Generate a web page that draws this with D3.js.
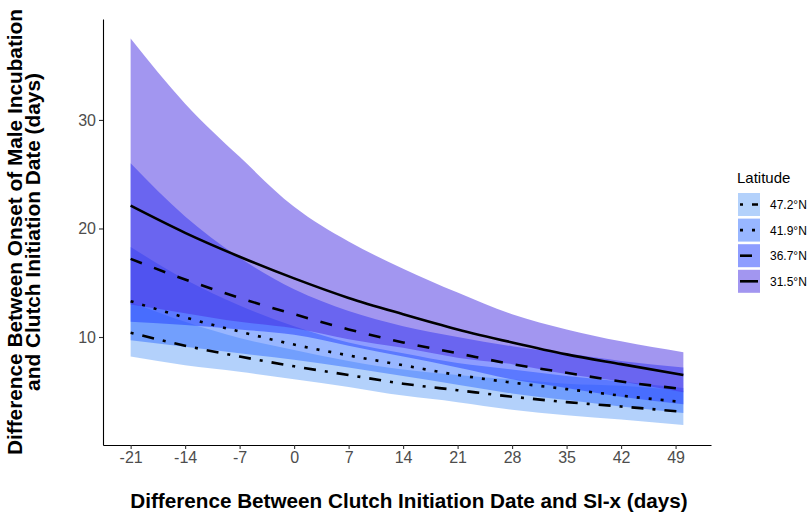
<!DOCTYPE html>
<html>
<head>
<meta charset="utf-8">
<script src="https://cdn.jsdelivr.net/npm/d3@7"></script>
<style>
    body { margin: 0; background: #fff; }
    text { font-family: "Liberation Sans", Arial, sans-serif; }
</style>
</head>
<body>
<svg id="chart" width="807" height="514"></svg>
<script>
/*global d3*/

// days relative to SI-x, one predicted value per tick
var days = [-21, -14, -7, 0, 7, 14, 21, 28, 35, 42, 50],
    xTicks = [-21, -14, -7, 0, 7, 14, 21, 28, 35, 42, 49],
    yTicks = [10, 20, 30],
    latitudes = ['47.2°N', '41.9°N', '36.7°N', '31.5°N'],

    fit472 = [10.4, 9.2, 8.2, 7.3, 6.5, 5.7, 5.1, 4.5, 4.0, 3.6, 3.1],
    low472 = [8.2, 7.4, 6.8, 6.1, 5.4, 4.6, 4.0, 3.3, 2.8, 2.4, 1.9],
    high472 = [13.2, 11.4, 9.9, 8.8, 7.8, 7.0, 6.5, 6.1, 5.7, 5.5, 5.05],

    fit419 = [13.3, 11.8, 10.5, 9.3, 8.3, 7.4, 6.5, 5.8, 5.2, 4.6, 4.0],
    low419 = [9.7, 9.1, 8.5, 7.9, 7.2, 6.4, 5.6, 4.8, 4.2, 3.6, 3.0],
    high419 = [18.3, 15.3, 12.9, 11.0, 9.5, 8.5, 7.6, 7.0, 6.4, 5.9, 5.3],

    fit367 = [17.2, 15.3, 13.6, 12.1, 10.7, 9.5, 8.5, 7.5, 6.7, 5.9, 5.2],
    low367 = [11.4, 11.1, 10.7, 10.2, 9.2, 8.2, 7.2, 6.1, 5.3, 4.5, 3.8],
    high367 = [26.0, 21.1, 17.3, 14.4, 12.4, 11.0, 10.0, 9.15, 8.5, 7.8, 7.2],

    fit315 = [22.1, 19.6, 17.4, 15.4, 13.6, 12.1, 10.7, 9.5, 8.4, 7.5, 6.5],
    low315 = [13.0, 12.2, 11.4, 10.8, 9.8, 9.0, 8.1, 7.5, 6.6, 5.9, 4.9],
    high315 = [37.5, 31.5, 26.6, 22.0, 18.8, 16.3, 14.1, 12.1, 10.7, 9.6, 8.6];

(function () {
    "use strict";

    var fills = ['#67a3f7', '#326eff', '#1e3cff', '#462de1'],
        dashes = ['3,9,12,9', '3,9', '12,13', null],
        bandAlpha = 0.5,
        lineWidth = 2.6,
        ink = '#4d4d4d',

        svg = d3.select('#chart'),
        plotLeft = 103,
        plotRight = 711,
        plotTop = 19,
        plotBottom = 445,

        x = d3.scaleLinear().domain([-24.55, 53.55]).range([plotLeft, plotRight]),
        y = d3.scaleLinear().domain([0.05, 39.3]).range([plotBottom, plotTop]),

        /**
         * Zip the per-tick arrays of one latitude into rows.
         */
        rows = function (fit, low, high) {
            return days.map(function (d, i) {
                return {day: d, fit: fit[i], low: low[i], high: high[i]};
            });
        },

        series = [
            rows(fit472, low472, high472),
            rows(fit419, low419, high419),
            rows(fit367, low367, high367),
            rows(fit315, low315, high315)
        ],

        area = d3.area()
            .curve(d3.curveMonotoneX)
            .x(function (d) { return x(d.day); })
            .y0(function (d) { return y(d.low); })
            .y1(function (d) { return y(d.high); }),
        line = d3.line()
            .curve(d3.curveMonotoneX)
            .x(function (d) { return x(d.day); })
            .y(function (d) { return y(d.fit); }),

        plain = function (d) { return String(d); },
        xAxis,
        yAxis,
        yTitle,
        legend,
        keys;

    // ribbons first, in factor order, then the fitted lines on top
    svg.append('g').selectAll('path')
        .data(series)
        .join('path')
        .attr('d', area)
        .attr('fill', function (d, i) { return fills[i]; })
        .attr('fill-opacity', bandAlpha);

    svg.append('g').selectAll('path')
        .data(series)
        .join('path')
        .attr('d', line)
        .attr('fill', 'none')
        .attr('stroke', '#000')
        .attr('stroke-width', lineWidth)
        .attr('stroke-dasharray', function (d, i) { return dashes[i]; });

    // axes
    xAxis = svg.append('g')
        .attr('transform', 'translate(0,' + plotBottom + ')')
        .call(d3.axisBottom(x).tickValues(xTicks).tickFormat(plain)
            .tickSize(4).tickPadding(3).tickSizeOuter(0));
    yAxis = svg.append('g')
        .attr('transform', 'translate(' + plotLeft + ',0)')
        .call(d3.axisLeft(y).tickValues(yTicks).tickFormat(plain)
            .tickSize(4).tickPadding(3).tickSizeOuter(0));

    [xAxis, yAxis].forEach(function (g) {
        g.select('.domain').attr('stroke', '#000').attr('stroke-width', 1.1);
        g.selectAll('.tick line').attr('stroke', '#333').attr('stroke-width', 1.1);
        g.selectAll('.tick text')
            .attr('fill', ink)
            .style('font-size', '16px')
            .style('font-family', '"Liberation Sans", Arial, sans-serif');
    });

    // axis titles
    svg.append('text')
        .attr('x', 409)
        .attr('y', 508)
        .attr('text-anchor', 'middle')
        .style('font-size', '20.7px')
        .style('font-weight', 'bold')
        .text('Difference Between Clutch Initiation Date and SI-x (days)');

    yTitle = svg.append('text')
        .attr('transform', 'translate(0,232) rotate(-90)')
        .attr('text-anchor', 'middle')
        .style('font-size', '20.8px')
        .style('font-weight', 'bold');
    yTitle.append('tspan').attr('x', 0).attr('y', 22)
        .text('Difference Between Onset of Male Incubation');
    yTitle.append('tspan').attr('x', 0).attr('y', 40)
        .text('and Clutch Initiation Date (days)');

    // legend
    legend = svg.append('g').attr('transform', 'translate(737,0)');
    legend.append('text')
        .attr('x', 0)
        .attr('y', 183)
        .style('font-size', '15px')
        .attr('fill', '#000')
        .text('Latitude');

    keys = legend.selectAll('g.key')
        .data(latitudes)
        .join('g')
        .attr('class', 'key')
        .attr('transform', function (d, i) { return 'translate(0,' + (193 + i * 25.6) + ')'; });

    keys.append('rect')
        .attr('x', 1)
        .attr('width', 22)
        .attr('height', 23)
        .attr('fill', '#fff');
    keys.append('rect')
        .attr('x', 1)
        .attr('width', 22)
        .attr('height', 23)
        .attr('fill', function (d, i) { return fills[i]; })
        .attr('fill-opacity', bandAlpha);
    keys.append('line')
        .attr('x1', 3)
        .attr('x2', 21)
        .attr('y1', 11.5)
        .attr('y2', 11.5)
        .attr('stroke', '#000')
        .attr('stroke-width', lineWidth)
        .attr('stroke-dasharray', function (d, i) { return dashes[i]; });
    keys.append('text')
        .attr('x', 33)
        .attr('y', 16)
        .style('font-size', '12px')
        .attr('fill', '#000')
        .text(function (d) { return d; });
}());
</script>
</body>
</html>
